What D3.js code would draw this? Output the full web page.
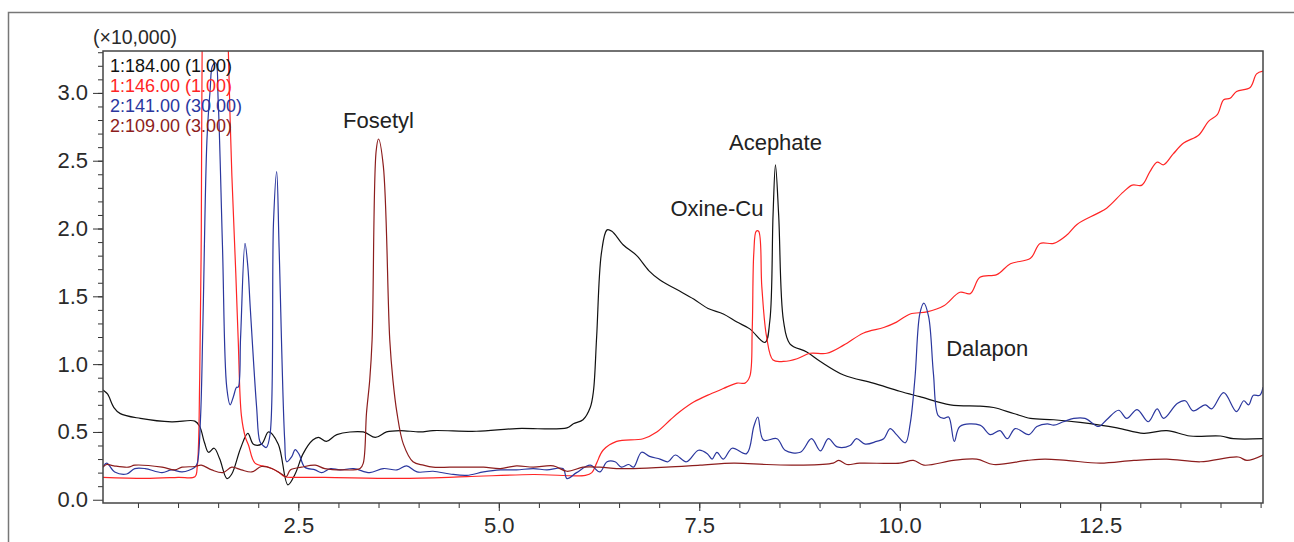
<!DOCTYPE html>
<html>
<head>
<meta charset="utf-8">
<script src="https://cdn.jsdelivr.net/npm/d3@7"></script>
<style>
    body { margin: 0; background: #fff; }
    text { font-family: "Liberation Sans", Arial, sans-serif; }
</style>
</head>
<body>
<div id="chart"></div>
<script>
// chromatogram traces, [time (min), intensity (x10,000)]
var trace184 = [[0.064,0.81],[0.12,0.78],[0.2,0.68],[0.28,0.635],[0.53,0.60],[0.92,0.574],[1.21,0.58],[1.27,0.54],[1.33,0.42],[1.38,0.35],[1.45,0.38],[1.52,0.30],[1.61,0.156],[1.67,0.19],[1.78,0.38],[1.87,0.49],[1.94,0.41],[2.04,0.41],[2.13,0.50],[2.25,0.41],[2.37,0.11],[2.46,0.19],[2.56,0.34],[2.68,0.44],[2.75,0.46],[2.85,0.43],[2.98,0.48],[3.31,0.50],[3.46,0.46],[3.6,0.50],[3.77,0.51],[4.02,0.50],[4.18,0.51],[4.72,0.505],[5.22,0.525],[5.85,0.53],[5.93,0.56],[6.05,0.59],[6.14,0.68],[6.18,0.80],[6.22,1.2],[6.28,1.82],[6.35,1.99],[6.41,1.98],[6.55,1.88],[6.72,1.80],[6.87,1.69],[7.01,1.62],[7.22,1.55],[7.43,1.48],[7.61,1.41],[7.8,1.37],[7.97,1.31],[8.13,1.26],[8.32,1.16],[8.38,1.32],[8.42,2.1],[8.45,2.47],[8.49,2.1],[8.55,1.32],[8.63,1.15],[8.84,1.09],[9.01,1.02],[9.3,0.92],[9.67,0.86],[10.0,0.80],[10.25,0.76],[10.63,0.70],[11.0,0.69],[11.17,0.68],[11.42,0.636],[11.63,0.60],[11.92,0.59],[12.25,0.57],[12.71,0.53],[13.04,0.49],[13.33,0.51],[13.62,0.47],[14.0,0.47],[14.16,0.45],[14.53,0.45]];

var trace146 = [[0.064,0.165],[0.59,0.157],[1.0,0.165],[1.21,0.17],[1.24,0.25],[1.27,0.9],[1.29,2.0],[1.30,3.3],[1.33,4.2],[1.58,4.2],[1.61,3.8],[1.627,3.31],[1.67,2.41],[1.72,1.67],[1.75,1.18],[1.79,0.62],[1.84,0.46],[1.88,0.40],[1.96,0.27],[2.13,0.24],[2.25,0.205],[2.33,0.17],[2.46,0.165],[2.83,0.165],[3.77,0.157],[4.6,0.17],[5.43,0.186],[6.08,0.18],[6.16,0.2],[6.22,0.27],[6.3,0.365],[6.47,0.43],[6.8,0.45],[6.97,0.50],[7.14,0.59],[7.26,0.65],[7.43,0.72],[7.64,0.78],[7.8,0.82],[7.97,0.86],[8.07,0.86],[8.13,0.91],[8.16,1.25],[8.18,1.82],[8.21,1.98],[8.24,1.98],[8.28,1.57],[8.34,1.2],[8.42,1.03],[8.55,1.02],[8.72,1.04],[8.88,1.08],[9.09,1.08],[9.3,1.14],[9.55,1.23],[9.8,1.27],[9.96,1.31],[10.13,1.37],[10.34,1.385],[10.55,1.43],[10.75,1.53],[10.88,1.52],[11.0,1.64],[11.21,1.66],[11.38,1.74],[11.63,1.78],[11.75,1.89],[11.92,1.89],[12.08,1.95],[12.21,2.03],[12.46,2.11],[12.58,2.15],[12.79,2.27],[12.9,2.32],[13.02,2.32],[13.12,2.42],[13.21,2.49],[13.29,2.47],[13.41,2.55],[13.54,2.63],[13.73,2.69],[13.85,2.79],[13.96,2.84],[14.04,2.95],[14.12,2.96],[14.2,3.01],[14.37,3.04],[14.45,3.14],[14.53,3.16]];

var trace141 = [[0.064,0.24],[0.11,0.27],[0.21,0.205],[0.36,0.19],[0.46,0.23],[0.59,0.23],[0.8,0.2],[0.92,0.22],[1.05,0.205],[1.21,0.24],[1.24,0.27],[1.28,0.6],[1.31,1.3],[1.36,2.65],[1.40,3.02],[1.43,3.2],[1.47,3.22],[1.50,2.95],[1.554,1.87],[1.607,0.83],[1.65,0.70],[1.69,0.76],[1.73,0.83],[1.75,0.83],[1.78,1.2],[1.835,1.89],[1.87,1.72],[1.9,1.42],[1.98,0.68],[2.02,0.43],[2.06,0.40],[2.1,0.385],[2.147,0.48],[2.19,2.04],[2.23,2.42],[2.26,1.86],[2.33,0.44],[2.355,0.28],[2.42,0.32],[2.46,0.37],[2.51,0.335],[2.58,0.24],[2.71,0.22],[2.79,0.2],[2.9,0.23],[3.02,0.22],[3.19,0.23],[3.39,0.2],[3.56,0.23],[3.73,0.22],[3.85,0.25],[3.98,0.205],[4.18,0.21],[4.39,0.19],[4.6,0.18],[4.81,0.205],[5.02,0.22],[5.22,0.22],[5.43,0.23],[5.6,0.22],[5.8,0.23],[5.85,0.156],[5.97,0.2],[6.14,0.255],[6.26,0.205],[6.35,0.28],[6.45,0.28],[6.53,0.24],[6.62,0.26],[6.68,0.24],[6.78,0.35],[6.88,0.32],[7.01,0.30],[7.11,0.28],[7.2,0.33],[7.34,0.28],[7.49,0.365],[7.6,0.34],[7.66,0.30],[7.72,0.35],[7.8,0.30],[7.91,0.38],[8.09,0.34],[8.18,0.54],[8.23,0.61],[8.3,0.44],[8.47,0.45],[8.57,0.365],[8.76,0.35],[8.9,0.45],[9.01,0.36],[9.11,0.45],[9.22,0.39],[9.38,0.40],[9.46,0.45],[9.57,0.41],[9.71,0.43],[9.8,0.45],[9.88,0.525],[9.96,0.48],[10.07,0.42],[10.13,0.56],[10.19,0.9],[10.25,1.37],[10.3,1.45],[10.36,1.35],[10.42,0.93],[10.48,0.62],[10.55,0.60],[10.61,0.61],[10.68,0.43],[10.75,0.54],[11.0,0.55],[11.13,0.48],[11.25,0.51],[11.34,0.45],[11.44,0.525],[11.61,0.48],[11.71,0.54],[11.84,0.56],[11.92,0.55],[12.04,0.575],[12.17,0.6],[12.31,0.6],[12.48,0.54],[12.58,0.59],[12.73,0.66],[12.83,0.6],[12.96,0.665],[13.1,0.575],[13.21,0.67],[13.29,0.6],[13.46,0.71],[13.56,0.73],[13.66,0.655],[13.81,0.70],[13.89,0.67],[14.04,0.79],[14.2,0.65],[14.29,0.73],[14.35,0.70],[14.41,0.77],[14.49,0.77],[14.53,0.83]];

var trace109 = [[0.064,0.24],[0.11,0.26],[0.2,0.25],[0.38,0.24],[0.46,0.255],[0.8,0.24],[0.96,0.22],[1.05,0.24],[1.21,0.245],[1.29,0.255],[1.42,0.22],[1.56,0.2],[1.67,0.24],[1.79,0.22],[1.92,0.205],[2.04,0.245],[2.17,0.23],[2.29,0.19],[2.35,0.17],[2.4,0.22],[2.54,0.24],[2.71,0.255],[2.83,0.23],[3.06,0.22],[3.27,0.23],[3.31,0.27],[3.35,0.64],[3.39,0.88],[3.42,1.18],[3.47,2.57],[3.5,2.66],[3.56,2.46],[3.64,1.18],[3.68,0.88],[3.73,0.64],[3.81,0.41],[3.93,0.28],[4.06,0.255],[4.18,0.24],[4.39,0.24],[4.6,0.24],[4.81,0.24],[5.02,0.23],[5.22,0.25],[5.43,0.24],[5.68,0.25],[5.85,0.21],[6.05,0.24],[6.26,0.24],[6.47,0.23],[6.68,0.23],[7.09,0.24],[7.51,0.255],[7.93,0.27],[8.34,0.26],[8.76,0.255],[9.17,0.27],[9.24,0.29],[9.34,0.26],[9.5,0.27],[10.0,0.27],[10.17,0.29],[10.3,0.255],[10.67,0.29],[10.96,0.30],[11.17,0.26],[11.59,0.29],[11.81,0.30],[12.08,0.29],[12.5,0.27],[12.92,0.29],[13.33,0.30],[13.75,0.28],[14.22,0.315],[14.33,0.29],[14.53,0.33]];

var traceNames = ["1:184.00 (1.00)", "1:146.00 (1.00)", "2:141.00 (30.00)", "2:109.00 (3.00)"];
var traceColors = ["#111111", "#ff2525", "#2b379e", "#8c1d1d"];

// peak labels
var peakNames = ["Fosetyl", "Acephate", "Oxine-Cu", "Dalapon"];
var peakTimes = [3.5, 8.45, 7.72, 11.09];
var peakValues = [2.74, 2.58, 2.09, 1.06];

// axis ticks
var xMajor = [2.5, 5.0, 7.5, 10.0, 12.5];
var xMinor = d3.range(0.5, 14.51, 0.5);
var yMajor = [0.0, 0.5, 1.0, 1.5, 2.0, 2.5, 3.0];
var yMinor = d3.range(0.1, 3.31, 0.1);

// set up our chart
var svgWidth = 1294;
var svgHeight = 542;
var margin = { top: 51, right: 31, bottom: 39, left: 103 };
var width = svgWidth - margin.left - margin.right;
var height = svgHeight - margin.top - margin.bottom;

var svg = d3.select("#chart")
    .append("svg")
    .attr("width", svgWidth)
    .attr("height", svgHeight);

// outer frame (only top and left edges show)
svg.append("path")
    .attr("d", `M8.5,${svgHeight} V12.5 H${svgWidth}`)
    .attr("fill", "none")
    .attr("stroke", "#777")
    .attr("stroke-width", 1.5);

var chartGroup = svg.append("g")
    .attr("transform", `translate(${margin.left}, ${margin.top})`);

var xScale = d3.scaleLinear().domain([0.064, 14.53]).range([0, width]);
var yScale = d3.scaleLinear().domain([-0.024, 3.309]).range([height, 0]);

// clip the traces to the plot box
chartGroup.append("clipPath")
    .attr("id", "plotClip")
    .append("rect")
    .attr("width", width)
    .attr("height", height);

var line = d3.line()
    .x(d => xScale(d[0]))
    .y(d => yScale(d[1]))
    .curve(d3.curveCatmullRom.alpha(0.5));

var traces = [trace184, trace146, trace141, trace109];
chartGroup.append("g")
    .attr("clip-path", "url(#plotClip)")
    .selectAll("path")
    .data(traces)
    .enter()
    .append("path")
    .attr("d", d => line(d))
    .attr("fill", "none")
    .attr("stroke", (d, i) => traceColors[i])
    .attr("stroke-width", 1.2);

// minor ticks
chartGroup.append("g")
    .attr("transform", `translate(0, ${height})`)
    .call(d3.axisBottom(xScale).tickValues(xMinor).tickSize(5).tickFormat(""))
    .call(g => g.select(".domain").remove());

chartGroup.append("g")
    .call(d3.axisLeft(yScale).tickValues(yMinor).tickSize(5).tickFormat(""))
    .call(g => g.select(".domain").remove());

// major ticks + labels
var xAxis = chartGroup.append("g")
    .attr("transform", `translate(0, ${height})`)
    .call(d3.axisBottom(xScale).tickValues(xMajor).tickSize(8).tickPadding(6).tickFormat(d3.format(".1f")));

var yAxis = chartGroup.append("g")
    .call(d3.axisLeft(yScale).tickValues(yMajor).tickSize(10).tickPadding(5).tickFormat(d3.format(".1f")));

[xAxis, yAxis].forEach(function(ax) {
    ax.select(".domain").remove();
    ax.selectAll("text").attr("font-size", 22).attr("fill", "#2a2a2a");
});

chartGroup.selectAll(".tick line").attr("stroke", "#333");

// plot box
chartGroup.append("rect")
    .attr("width", width)
    .attr("height", height)
    .attr("fill", "none")
    .attr("stroke", "#444")
    .attr("stroke-width", 1.5);

// scale note
svg.append("text")
    .attr("x", 93)
    .attr("y", 44)
    .attr("font-size", 19.5)
    .attr("fill", "#2a2a2a")
    .text("(×10,000)");

// legend
chartGroup.append("g")
    .selectAll("text")
    .data(traceNames)
    .enter()
    .append("text")
    .attr("x", 7)
    .attr("y", (d, i) => 20.5 + i * 20.3)
    .attr("font-size", 18)
    .attr("fill", (d, i) => traceColors[i])
    .text(d => d);

// peak names
chartGroup.append("g")
    .selectAll("text")
    .data(peakNames)
    .enter()
    .append("text")
    .attr("x", (d, i) => xScale(peakTimes[i]))
    .attr("y", (d, i) => yScale(peakValues[i]))
    .attr("text-anchor", "middle")
    .attr("font-size", 22)
    .attr("fill", "#222")
    .text(d => d);
</script>
</body>
</html>
